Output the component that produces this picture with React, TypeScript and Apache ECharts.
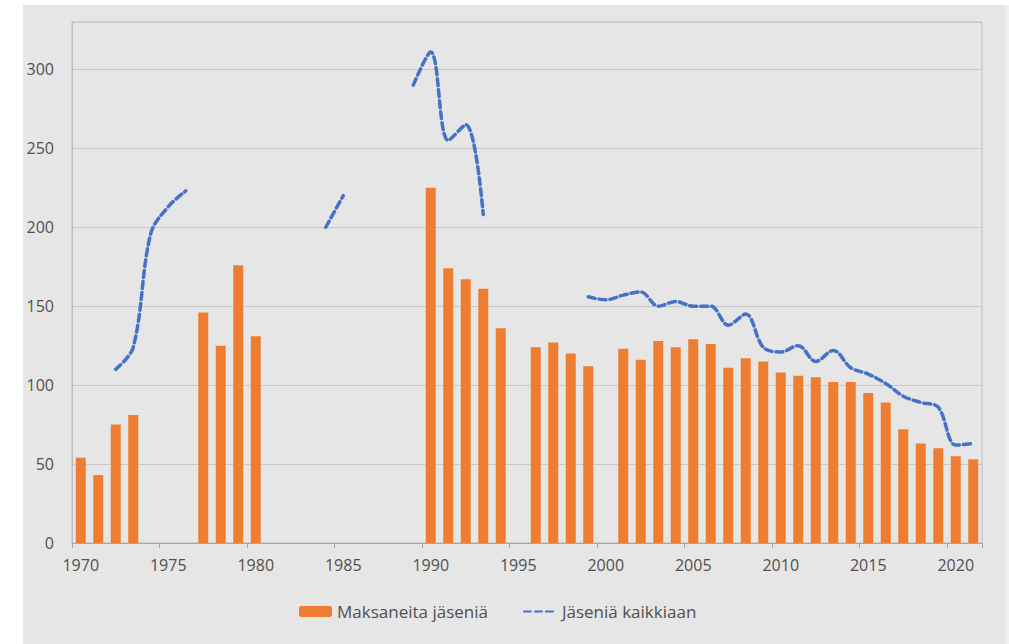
import React, { useEffect, useRef } from "react";
import * as echarts from "echarts";

const years: string[] = [];
for (let y = 1970; y <= 2021; y++) years.push(String(y));

const paidMembers: (number | null)[] = [
  54, 43, 75, 81, null, null, null, 146, 125, 176,
  131, null, null, null, null, null, null, null, null, null,
  225, 174, 167, 161, 136, null, 124, 127, 120, 112,
  null, 123, 116, 128, 124, 129, 126, 111, 117, 115,
  108, 106, 105, 102, 102, 95, 89, 72, 63, 60,
  55, 53,
];

const totalMembers: (number | null)[] = [
  null, null, 110, 124, 196, 213, 223, null, null, null,
  null, null, null, null, 200, 220, null, null, null, 290,
  311, 255, 265, 208, null, null, null, null, null, 156,
  154, 157, 159, 150, 153, 150, 150, 138, 145, 124,
  121, 125, 115, 122, 111, 107, 101, 93, 89, 86,
  62, 63,
];

const seriesNames = ["Maksaneita jäseniä", "Jäseniä kaikkiaan"];

const FONT = "'Open Sans', 'Noto Sans', sans-serif";
const TEXT = "#505050";

export default function App() {
  const ref = useRef<HTMLDivElement>(null);
  useEffect(() => {
    if (!ref.current) return;
    const chart = echarts.init(ref.current, null, { renderer: "svg" });
    chart.setOption({
      animation: false,
      backgroundColor: "#ffffff",
      textStyle: { fontFamily: FONT },
      graphic: [
        { type: "rect", z: -10, shape: { x: 23, y: 5, width: 982, height: 639 }, style: { fill: "#e7e6e6" } },
        { type: "rect", z: -10, shape: { x: 1005, y: 5, width: 4, height: 639 }, style: { fill: "#f0f0f0" } },
      ],
      grid: {
        left: 72,
        right: 27,
        top: 22,
        bottom: 101,
        show: true,
        borderColor: "#bcbcbc",
        borderWidth: 1,
        outerBoundsMode: "none",
      },
      legend: {
        left: 299,
        top: 603,
        padding: 0,
        itemWidth: 33,
        itemHeight: 11,
        itemGap: 35,
        textStyle: { color: TEXT, fontSize: 17, fontFamily: FONT },
        data: [
          { name: seriesNames[0] },
          { name: seriesNames[1], itemStyle: { opacity: 0 } },
        ],
      },
      xAxis: {
        type: "category",
        data: years,
        boundaryGap: true,
        axisLine: { lineStyle: { color: "#a6a6a6", width: 1 } },
        axisTick: { show: true, interval: 4, alignWithLabel: false, length: 5, lineStyle: { color: "#a6a6a6" } },
        axisLabel: { interval: 4, color: TEXT, fontSize: 16, fontFamily: FONT, margin: 14 },
        splitLine: { show: false },
      },
      yAxis: {
        type: "value",
        min: 0,
        max: 330,
        interval: 50,
        axisLine: { show: true, lineStyle: { color: "#bcbcbc" } },
        axisTick: { show: false },
        axisLabel: {
          color: TEXT,
          fontSize: 16,
          fontFamily: FONT,
          margin: 18,
          formatter: (v: number) => (v % 50 === 0 ? String(v) : ""),
        },
        splitLine: { show: true, lineStyle: { color: "#c8c8c8", width: 1 } },
      },
      series: [
        {
          name: seriesNames[0],
          type: "bar",
          data: paidMembers,
          barWidth: "57%",
          itemStyle: { color: "#ed7d31" },
        },
        {
          name: seriesNames[1],
          type: "line",
          data: totalMembers,
          connectNulls: false,
          smooth: 0.35,
          symbol: "none",
          lineStyle: { color: "#4472c4", width: 3.5, type: [7, 4], cap: "round" },
          itemStyle: { color: "#4472c4" },
        },
      ],
    });
    return () => chart.dispose();
  }, []);
  return (
    <div
      ref={ref}
      style={{ position: "fixed", left: 0, top: 0, width: 1009, height: 644 }}
    />
  );
}
